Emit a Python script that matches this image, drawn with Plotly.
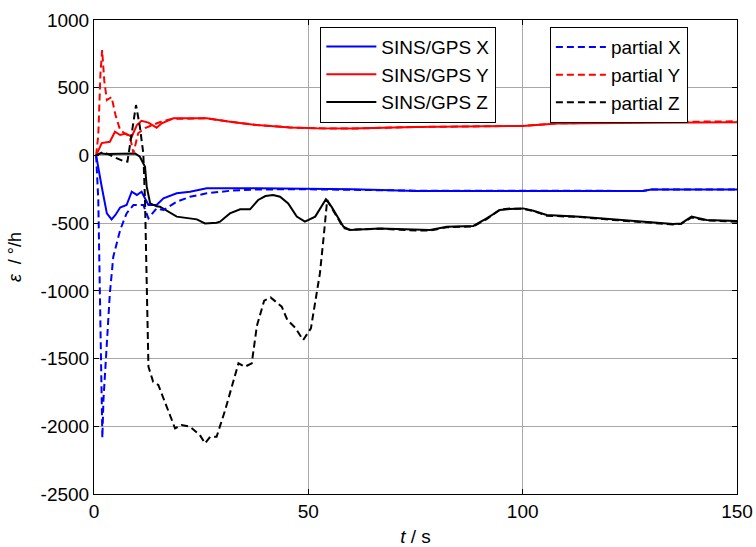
import plotly.graph_objects as go

# ---------------- data ----------------
t_gps_x = [0.5, 1.0, 1.8, 3.0, 4.1, 5.0, 6.1, 7.6, 8.8, 10.0, 11.1, 12.7, 14.6, 16.2, 19.3,
           22.4, 26.3, 38, 50, 60, 67, 75, 90, 110, 128, 130, 150]
v_gps_x = [0, -100, -231, -428, -472, -440, -385, -366, -268, -292, -268, -366, -366, -317, -280,
           -268, -243, -243, -245, -250, -255, -263, -263, -263, -263, -251, -251]

t_par_x = [0.5, 1.0, 1.4, 1.8, 1.95, 2.2, 3.0, 3.7, 4.5, 6.1, 7.6, 9.2, 11.5, 12.7, 14.6, 16.2,
           19.3, 22.4, 26.3, 31.7, 38, 50, 75, 128, 130, 150]
v_par_x = [0, -329, -1067, -1806, -2087, -1806, -1363, -1018, -748, -551, -428, -366, -366, -464,
           -391, -403, -342, -305, -280, -261, -251, -250, -260, -262, -252, -252]

t_gps_y = [0.5, 1.8, 3.7, 4.9, 6.1, 7.4, 8.8, 10.0, 11.1, 12.7, 14.6, 15.8, 18.5, 26.3, 31.7,
           38, 45.7, 52, 60, 75, 100, 108, 130, 150]
v_gps_y = [0, 91, 101, 175, 151, 162, 138, 224, 256, 242, 205, 237, 274, 274, 249,
           224, 207, 200, 198, 210, 218, 235, 242, 245]

t_par_y = [0.5, 1.0, 1.5, 1.9, 2.4, 3.0, 4.1, 5.0, 6.1, 7.2, 8.4, 9.2, 10.3, 11.9, 13.8, 16.2,
           18.5, 26.3, 31.7, 38, 45.7, 52, 60, 75, 100, 108, 130, 150]
v_par_y = [0, 150, 600, 778, 550, 409, 431, 300, 187, 164, 136, 17, 164, 202, 224, 256,
           270, 274, 249, 224, 207, 200, 198, 210, 218, 237, 246, 252]

t_gps_z = [0.5, 1.5, 3, 6, 9.6, 10.7, 11.9, 12.3, 13.1, 14.6, 15.4, 19.3, 24.0, 25.9, 28.6,
           29.4, 31.7, 34.1, 36.4, 38.3, 40, 41.8, 43.4, 45.3, 47.3, 49.2, 51.6, 54.1, 55.4,
           58.2, 59.7, 66.7, 71.4, 75.3, 78.4, 82.3, 88.5, 91.6, 94.7, 97, 100.1, 102.5, 105.6,
           113.4, 121.1, 128.9, 135.1, 137, 139.4, 142.9, 149.1, 150]
v_gps_z = [0, 15, 10, 10, 15, -10, -83, -231, -354, -376, -379, -452, -472, -502, -497,
           -489, -428, -398, -398, -329, -300, -292, -305, -354, -452, -489, -452, -324, -378,
           -526, -551, -539, -546, -551, -551, -526, -521, -465, -403, -395, -391, -408, -440,
           -452, -472, -489, -507, -502, -452, -477, -482, -485]

t_par_z = [0.5, 2.2, 4.5, 6.8, 7.8, 8.8, 9.8, 10.7, 11.5, 11.9, 12.7, 13.8, 15.0, 18.9, 20.4,
           22.4, 24.7, 25.9, 27.1, 28.6, 30.6, 33.7, 35.2, 36.8, 38, 39.7, 41.2, 43.8, 45.1,
           46.9, 48.8, 50.6, 52.7, 53.5, 54.4, 55.5, 58.2, 59.7, 66.7, 71.4, 75.3, 78.4, 82.3,
           88.5, 91.6, 94.7, 97, 100.1, 102.5, 105.6, 113.4, 121.1, 128.9, 135.1, 137, 139.4,
           142.9, 149.1, 150]
v_par_z = [0, 27, -10, -41, -46, 163, 372, 212, 15, -329, -1560, -1671, -1695, -2015, -1991,
           -2003, -2065, -2126, -2077, -2077, -1880, -1535, -1560, -1535, -1258, -1072, -1048,
           -1117, -1215, -1271, -1363, -1277, -871, -625, -329, -390, -535, -548, -541, -548,
           -555, -555, -530, -524, -470, -400, -392, -395, -410, -445, -455, -476, -492, -510,
           -505, -458, -480, -487, -490]

x_ticks = [0, 50, 100, 150]
y_ticks = [1000, 500, 0, -500, -1000, -1500, -2000, -2500]

# ---------------- figure ----------------
FONT = "Arial, 'Liberation Sans', sans-serif"
DASH = "7px,4px"

fig = go.Figure()
series = [
    (t_gps_x, v_gps_x, "SINS/GPS X", "#0000ff", "solid", "legend"),
    (t_gps_y, v_gps_y, "SINS/GPS Y", "#ff0000", "solid", "legend"),
    (t_gps_z, v_gps_z, "SINS/GPS Z", "#000000", "solid", "legend"),
    (t_par_x, v_par_x, "partial X", "#0000ff", DASH, "legend2"),
    (t_par_y, v_par_y, "partial Y", "#ff0000", DASH, "legend2"),
    (t_par_z, v_par_z, "partial Z", "#000000", DASH, "legend2"),
]
for t, v, name, col, dash, leg in series:
    fig.add_trace(go.Scatter(x=t, y=v, mode="lines", name=name, legend=leg,
                             line=dict(color=col, width=2, dash=dash)))

axis_common = dict(
    showline=True, linecolor="black", linewidth=1, mirror="ticks",
    ticks="inside", ticklen=5, tickcolor="black", tickwidth=1,
    showgrid=True, gridcolor="#a8a8a8", gridwidth=1, zeroline=False,
    tickfont=dict(family=FONT, size=19, color="black"),
    automargin=False,
)

fig.update_xaxes(range=[0, 150], tickvals=x_ticks, ticktext=[str(v) for v in x_ticks],
                 title=dict(text="<i>t</i> / s", font=dict(family=FONT, size=19, color="black"),
                            standoff=14),
                 **axis_common)
fig.update_yaxes(range=[-2500, 1000], tickvals=y_ticks, ticktext=[str(v) for v in y_ticks],
                 title=dict(text="<i>ε</i>  / °/h", font=dict(family=FONT, size=18, color="black"),
                            standoff=14),
                 **axis_common)

legend_common = dict(
    bgcolor="white", bordercolor="black", borderwidth=1,
    font=dict(family=FONT, size=19, color="black"),
    xanchor="left", yanchor="top", tracegroupgap=0, itemwidth=50,
)
fig.update_layout(
    width=756, height=547,
    margin=dict(l=94, r=19, t=20, b=53),
    paper_bgcolor="white", plot_bgcolor="white",
    font=dict(family=FONT, size=19, color="black"),
    legend=dict(x=0.352, y=0.986, **legend_common),
    legend2=dict(x=0.709, y=0.985, **legend_common),
    showlegend=True,
)

fig.write_html("out.html")
